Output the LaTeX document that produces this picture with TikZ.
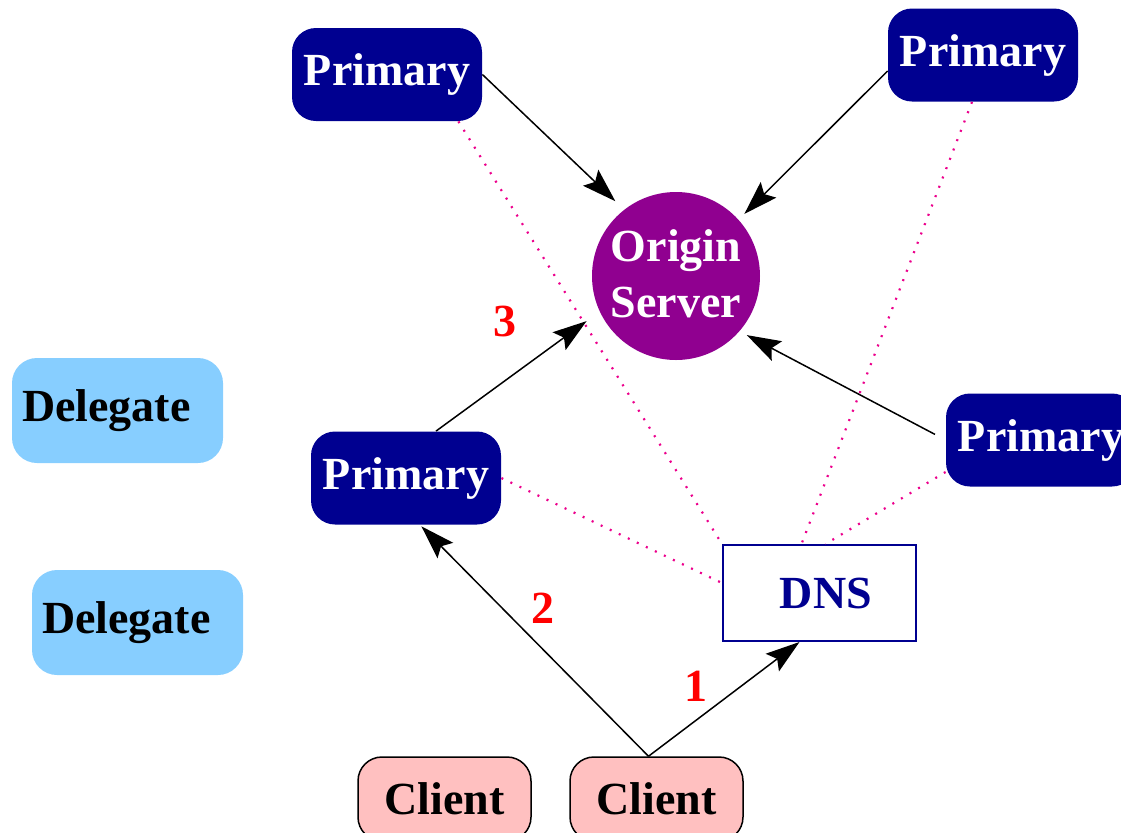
\documentclass[tikz,border=0pt]{standalone}
\usepackage{fontspec}
\setmainfont{Liberation Serif}
\usetikzlibrary{arrows.meta}

\definecolor{primblue}{RGB}{0,0,144}
\definecolor{originpurple}{RGB}{144,0,144}
\definecolor{delegblue}{RGB}{135,206,255}
\definecolor{clientpink}{RGB}{255,192,192}

\tikzset{
	primary/.style={fill=primblue, text=white, rounded corners=12pt,
		minimum width=95pt, minimum height=46.5pt, inner sep=0pt},
	delegate/.style={fill=delegblue, rounded corners=12.5pt, text width=95.5pt,
		align=left, inner xsep=5pt, minimum height=52.5pt},
	client/.style={draw=black, line width=0.75pt, fill=clientpink, rounded corners=12pt,
		minimum width=86.5pt, minimum height=42pt, inner sep=0pt},
	dnsbox/.style={draw=primblue, line width=1pt, text=primblue,
		minimum width=96.5pt, minimum height=48pt},
	num/.style={text=red, inner sep=0pt},
	req/.style={line width=0.75pt, -{Stealth[length=17pt,width=11pt,inset=3pt]}},
	lookup/.style={magenta, line width=1.1pt, dash pattern=on 1pt off 4pt}
}

\begin{document}
\begin{tikzpicture}[x=0.5pt, y=-0.5pt, font=\bfseries\fontsize{23}{28}\selectfont]
		\useasboundingbox (0,0) rectangle (1121,832);

		\node[primary] (p1) at (387,74.5) {Primary};
		\node[primary] (p2) at (983,55) {Primary};
		\node[primary] (p3) at (1041,440) {Primary};
		\node[primary] (p4) at (406,478) {Primary};

		\node[circle, fill=originpurple, text=white, align=center, minimum size=84pt,
			inner sep=0pt] (origin) at (676,276) {\raisebox{2pt}{Origin}\\\raisebox{2pt}{Server}};

		\node[delegate] (d1) at (117.5,410.5) {Delegate};
		\node[delegate] (d2) at (137.5,622.5) {Delegate};

		\node[dnsbox] (dns) at (819.5,593) {\hspace*{6.5pt}DNS};

		\node[client] (c1) at (444.5,799) {Client};
		\node[client] (c2) at (656.5,799) {Client};

		% dotted lines to the DNS
		\draw[lookup] ([xshift=-12pt]p1.south east) -- (dns.north west);
		\draw[lookup] ([xshift=-5.5pt]p2.south) -- ([xshift=-9pt]dns.north);
		\draw[lookup] ([yshift=-16pt]p3.west) -- ([xshift=3pt]dns.north);
		\draw[lookup] (p4.east) -- ([yshift=5pt]dns.west);

		% requests
		\draw[req, shorten >=6pt] (p1.east) -- (origin.128);
		\draw[req, shorten >=4pt] ([yshift=-8pt]p2.west) -- (origin.42);
		\draw[req, shorten <=6pt, shorten >=4pt] (p3.west) -- (origin.-41);
		\draw[req, shorten >=8pt] ([xshift=15pt]p4.north) -- (origin.205);
		\draw[req, shorten >=1pt] ([xshift=-4pt]c2.north) -- ([xshift=7pt]p4.south);
		\draw[req] ([xshift=-4pt]c2.north) -- ([xshift=-10pt]dns.south);

		\node[num] (n1) at (696,686) {1};
		\node[num] (n2) at (543,608) {2};
		\node[num] (n3) at (505,321) {3};
	\end{tikzpicture}
\end{document}
